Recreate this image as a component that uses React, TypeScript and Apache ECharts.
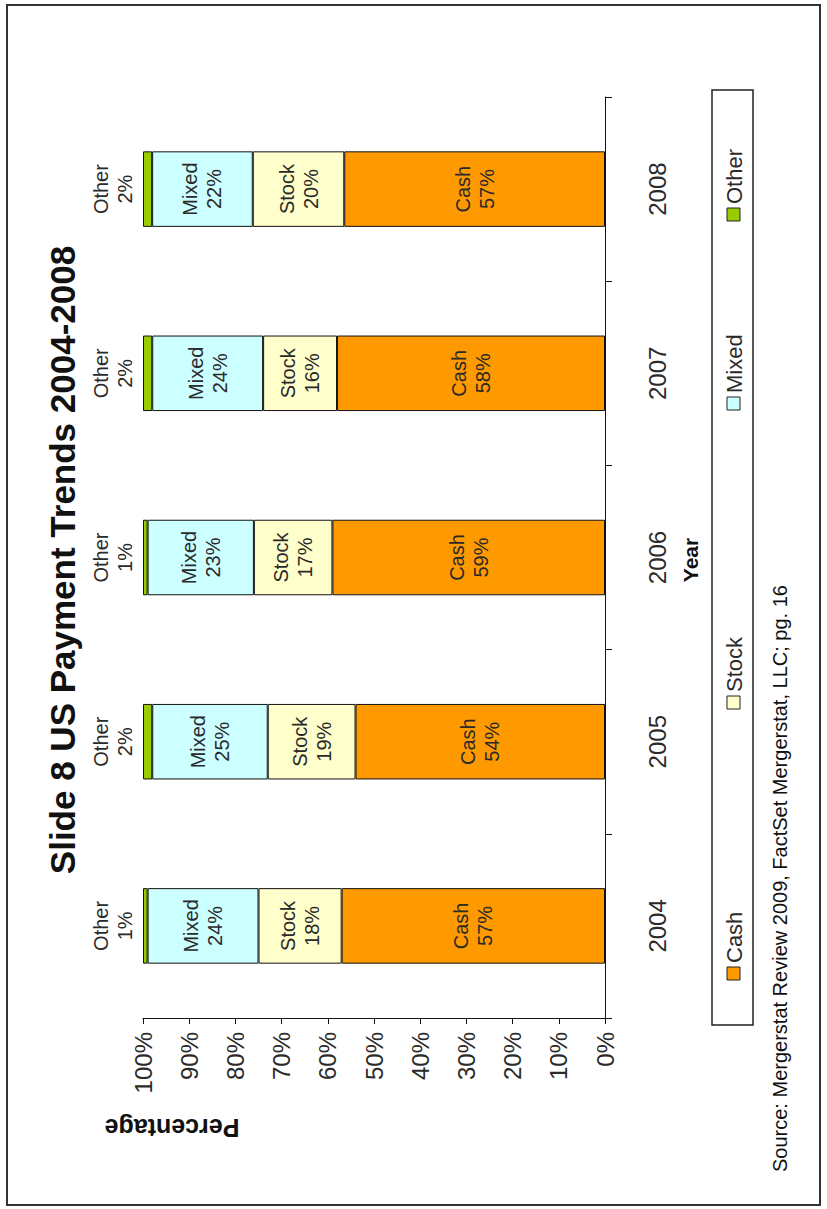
import React, { useEffect, useRef } from "react";
import * as echarts from "echarts";

const years = ["2004", "2005", "2006", "2007", "2008"];
const seriesNames = ["Cash", "Stock", "Mixed", "Other"];
const cash = [57, 54, 59, 58, 57];
const stock = [18, 19, 17, 16, 20];
const mixed = [24, 25, 23, 24, 22];
const other = [1, 2, 1, 2, 2];
const valueTicks = [0, 10, 20, 30, 40, 50, 60, 70, 80, 90, 100];

const colors = ["#FF9900", "#FFFFCC", "#CCFFFF", "#99CC00"];
const FONT = "'Liberation Sans', Arial, sans-serif";

export default function App() {
  const ref = useRef<HTMLDivElement>(null);

  useEffect(() => {
    if (!ref.current) return;
    const chart = echarts.init(ref.current, null, { renderer: "svg" });
    const raw = [cash, stock, mixed, other];
    const totals = years.map((_, i) => raw.reduce((s, arr) => s + arr[i], 0));

    const series = seriesNames.map((name, k) => {
      const isOther = k === 3;
      return {
        name,
        type: "bar",
        stack: "total",
        barWidth: "41%",
        data: raw[k].map((v, i) => (v / totals[i]) * 100),
        itemStyle: { color: colors[k], borderColor: "#111", borderWidth: 1 },
        label: {
          show: true,
          position: isOther ? "left" : "inside",
          distance: 30,
          rotate: 90,
          align: "center",
          verticalAlign: "middle",
          fontFamily: FONT,
          fontSize: 20,
          lineHeight: 24,
          color: "#2a2a2a",
          formatter: (p: any) => `${name}\n${raw[k][p.dataIndex]}%`,
        },
      };
    });

    const legendMarkerY = [974, 703, 404, 215];
    const legendEls: any[] = [];
    seriesNames.forEach((name, k) => {
      legendEls.push({
        type: "rect",
        shape: { x: 727, y: legendMarkerY[k] - 7, width: 13, height: 13 },
        style: { fill: colors[k], stroke: "#222", lineWidth: 1 },
        z: 10,
      });
      legendEls.push({
        type: "text",
        x: 734,
        y: legendMarkerY[k] - 11,
        rotation: Math.PI / 2,
        style: {
          text: name,
          fontFamily: FONT,
          fontSize: 22,
          fill: "#2a2a2a",
          align: "left",
          verticalAlign: "middle",
        },
        z: 10,
      });
    });

    chart.setOption({
      animation: false,
      backgroundColor: "#ffffff",
      grid: { left: 143, right: 222, top: 97, bottom: 191, containLabel: false },
      xAxis: {
        type: "value",
        inverse: true,
        position: "bottom",
        min: valueTicks[0],
        max: valueTicks[valueTicks.length - 1],
        interval: 10,
        splitLine: { show: false },
        axisLine: { show: true, lineStyle: { color: "#111", width: 1 } },
        axisTick: { show: true, length: 6, lineStyle: { color: "#111" } },
        axisLabel: {
          formatter: "{value}%",
          rotate: 90,
          margin: 14,
          fontFamily: FONT,
          fontSize: 24,
          color: "#2a2a2a",
        },
      },
      yAxis: {
        type: "category",
        data: years,
        position: "right",
        axisLine: { show: true, lineStyle: { color: "#111", width: 1 } },
        axisTick: { show: true, length: 7, alignWithLabel: false, lineStyle: { color: "#111" } },
        axisLabel: {
          rotate: 90,
          margin: 40,
          fontFamily: FONT,
          fontSize: 24,
          color: "#2a2a2a",
        },
      },
      series,
      graphic: [
        {
          type: "rect",
          shape: { x: 7, y: 5, width: 813, height: 1200 },
          style: { fill: "none", stroke: "#333", lineWidth: 2 },
          z: 1,
        },
        {
          type: "text",
          x: 62,
          y: 560,
          rotation: Math.PI / 2,
          style: {
            text: "Slide 8 US Payment Trends 2004-2008",
            fontFamily: FONT,
            fontSize: 35,
            fontWeight: "bold",
            fill: "#111",
            align: "center",
            verticalAlign: "middle",
          },
        },
        {
          type: "text",
          x: 690,
          y: 560,
          rotation: Math.PI / 2,
          style: {
            text: "Year",
            fontFamily: FONT,
            fontSize: 21,
            fontWeight: "bold",
            fill: "#111",
            align: "center",
            verticalAlign: "middle",
          },
        },
        {
          type: "text",
          x: 172,
          y: 1128,
          rotation: Math.PI,
          style: {
            text: "Percentage",
            fontFamily: FONT,
            fontSize: 25,
            fontWeight: "bold",
            fill: "#111",
            align: "center",
            verticalAlign: "middle",
          },
        },
        {
          type: "rect",
          shape: { x: 712, y: 90, width: 41, height: 935 },
          style: { fill: "#fff", stroke: "#222", lineWidth: 1.5 },
          z: 5,
        },
        ...legendEls,
        {
          type: "text",
          x: 780,
          y: 1172,
          rotation: Math.PI / 2,
          style: {
            text: "Source: Mergerstat Review 2009, FactSet Mergerstat, LLC; pg. 16",
            fontFamily: FONT,
            fontSize: 20,
            fill: "#111",
            align: "left",
            verticalAlign: "middle",
          },
        },
      ],
    });
    return () => chart.dispose();
  }, []);

  return (
    <div
      ref={ref}
      style={{ position: "absolute", left: 0, top: 0, width: 827, height: 1209, background: "#fff" }}
    />
  );
}
